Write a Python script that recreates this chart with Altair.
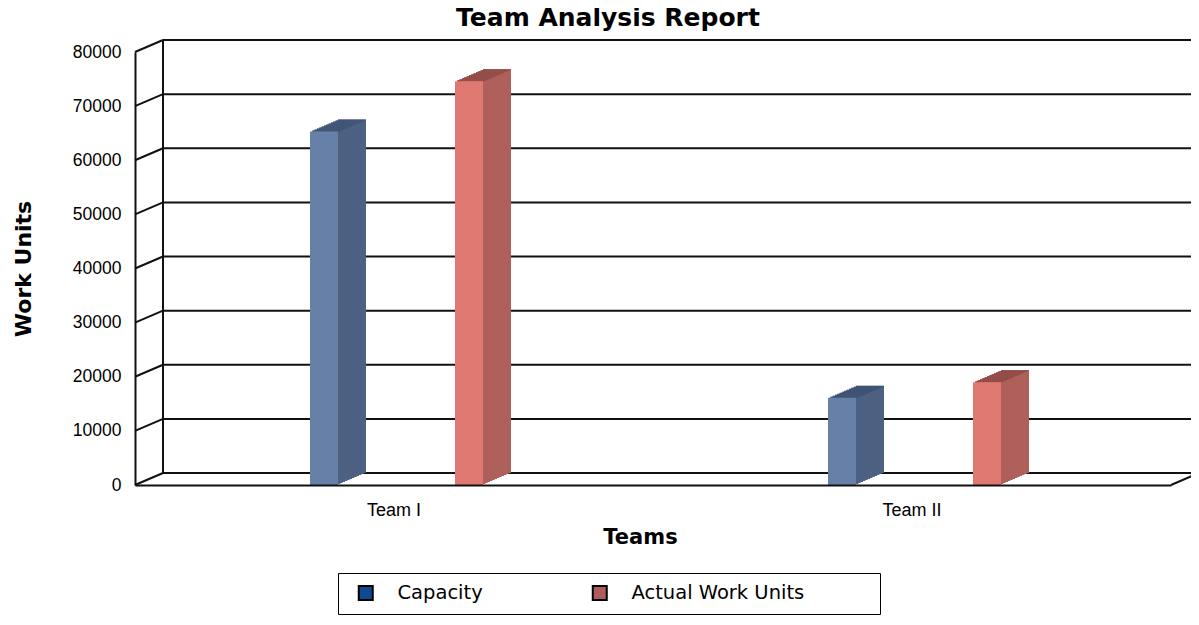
import altair as alt
import pandas as pd

# ---- data ----
chart_title = ["Team Analysis Report"]
teams = ["Team I", "Team II"]
series = ["Capacity", "Actual Work Units"]
capacity = [65300, 16100]
actual_units = [74600, 19000]
y_ticks = [0, 10000, 20000, 30000, 40000, 50000, 60000, 70000, 80000]

rows = []
for i, t in enumerate(teams):
    rows.append({"Team": t, "Series": "Capacity", "Units": capacity[i]})
    rows.append({"Team": t, "Series": "Actual Work Units", "Units": actual_units[i]})
df = pd.DataFrame(rows)
ticks_df = pd.DataFrame({"v": y_ticks})
title_df = pd.DataFrame({"t": chart_title})

# ---- layout / style ----
W, H = 1036, 433
DX, DY = 28, 12          # 3D depth in pixels
N = 12                   # steps used to build the 3D faces
LINE = "#111111"
LW = 2
BAR_W = 28
SHIFT = {"Capacity": -70, "Actual Work Units": 75}   # bar centre shift inside a team band

front_c = {"Capacity": "#6680a8", "Actual Work Units": "#e07872"}
side_c = {"Capacity": "#4d6183", "Actual Work Units": "#b0605a"}
top_c = {"Capacity": "#3f5272", "Actual Work Units": "#8f4b47"}
legend_c = ["#0d4a8e", "#b05c5c"]

yscale = alt.Scale(domain=[0, 80000], nice=False, zero=True)
xscale = alt.Scale(domain=teams, paddingInner=0, paddingOuter=0)

AX = alt.Axis(title="Teams", labelAngle=0, domain=True, domainColor=LINE,
              domainWidth=LW, ticks=False, grid=False,
              labelFont="Liberation Sans", labelFontSize=18, labelColor="black",
              labelPadding=16.5, titleFont="DejaVu Sans", titleFontSize=21,
              titleFontWeight="bold", titleColor="black", titlePadding=7,
              titleX=505, zindex=1)
AY = alt.Axis(title="Work Units", values=y_ticks, domain=True, domainColor=LINE,
              domainWidth=LW, ticks=False, grid=False, format="d",
              labelFont="Liberation Sans", labelFontSize=17.5, labelColor="black",
              labelPadding=14, titleFont="DejaVu Sans", titleFontSize=22,
              titleFontWeight="bold", titleColor="black", titlePadding=37)


def X():
    return alt.X("Team:N", sort=teams, scale=xscale, axis=AX, title="Teams")


def Y(field):
    return alt.Y(field, scale=yscale, axis=AY, title="Work Units")


layers = []

# chart title
layers.append(alt.Chart(title_df).mark_text(font="DejaVu Sans", fontSize=25, fontWeight="bold",
                                            color="black", align="center",
                                            baseline="alphabetic").encode(
    text="t:N", x=alt.value(473), y=alt.value(-26)))

# back wall grid lines
layers.append(alt.Chart(ticks_df).mark_rule(color=LINE, strokeWidth=LW, yOffset=-DY).encode(
    y=Y("v:Q"), x=alt.value(DX), x2=alt.value(W + DX)))
# side wall diagonals
layers.append(alt.Chart(ticks_df).mark_rule(color=LINE, strokeWidth=LW, y2Offset=-DY).encode(
    y=Y("v:Q"), y2=alt.Y2("v"), x=alt.value(0), x2=alt.value(DX)))
# back wall left edge
layers.append(alt.Chart(ticks_df).transform_aggregate(top="max(v)", bottom="min(v)").mark_rule(
    color=LINE, strokeWidth=LW, yOffset=-DY, y2Offset=-DY).encode(
    y=Y("top:Q"), y2=alt.Y2("bottom:Q"), x=alt.value(DX)))
# floor right diagonal
layers.append(alt.Chart(ticks_df).transform_aggregate(bottom="min(v)").mark_rule(
    color=LINE, strokeWidth=LW, y2Offset=-DY).encode(
    y=Y("bottom:Q"), y2=alt.Y2("bottom:Q"), x=alt.value(W), x2=alt.value(W + DX)))

for s in series:
    base = alt.Chart(df).transform_filter(alt.datum.Series == s)
    c0 = SHIFT[s]
    # side faces (stepped extrusion)
    for k in range(N, 0, -1):
        dx = DX * k / N
        dy = DY * k / N
        layers.append(base.mark_bar(width=BAR_W, xOffset=c0 + dx, yOffset=-dy, y2Offset=-dy,
                                    color=side_c[s]).encode(x=X(), y=Y("Units:Q")))
    # top faces (thin stepped strips)
    for k in range(1, N + 1):
        dx = DX * k / N
        dy = DY * k / N
        dy_prev = DY * (k - 1) / N
        layers.append(base.mark_bar(width=BAR_W, xOffset=c0 + dx, yOffset=-dy, y2Offset=-dy_prev,
                                    color=top_c[s]).encode(x=X(), y=Y("Units:Q"), y2=alt.Y2("Units")))
    # front face
    layers.append(base.mark_bar(width=BAR_W, xOffset=c0, color=front_c[s]).encode(
        x=X(), y=Y("Units:Q")))

# invisible layer that carries the legend
nb = "\u00a0"
layers.append(alt.Chart(df).mark_bar(opacity=0, width=BAR_W).encode(
    x=X(), y=Y("Units:Q"),
    color=alt.Color("Series:N", sort=series,
                    scale=alt.Scale(domain=series, range=legend_c),
                    legend=alt.Legend(orient="none", legendX=203, legendY=521,
                                      direction="horizontal", title=nb, titleOrient="right",
                                      titleFontSize=1, titlePadding=66,
                                      symbolType="square", symbolSize=196, symbolOffset=8,
                                      symbolStrokeColor="black", symbolStrokeWidth=2,
                                      symbolOpacity=1, labelFont="DejaVu Sans",
                                      labelFontSize=19.5, labelColor="black", labelOffset=22,
                                      labelLimit=500, columnPadding=99, padding=10,
                                      strokeColor="black", fillColor="white"))))

chart = alt.layer(*layers).properties(
    width=W, height=H,
    autosize=alt.AutoSizeParams(type="none"),
    padding={"left": 127, "top": 44, "right": 20, "bottom": 130},
    background="white",
).configure_view(stroke=None)

chart.save("out.html", embed_options={"renderer": "svg", "actions": False})
